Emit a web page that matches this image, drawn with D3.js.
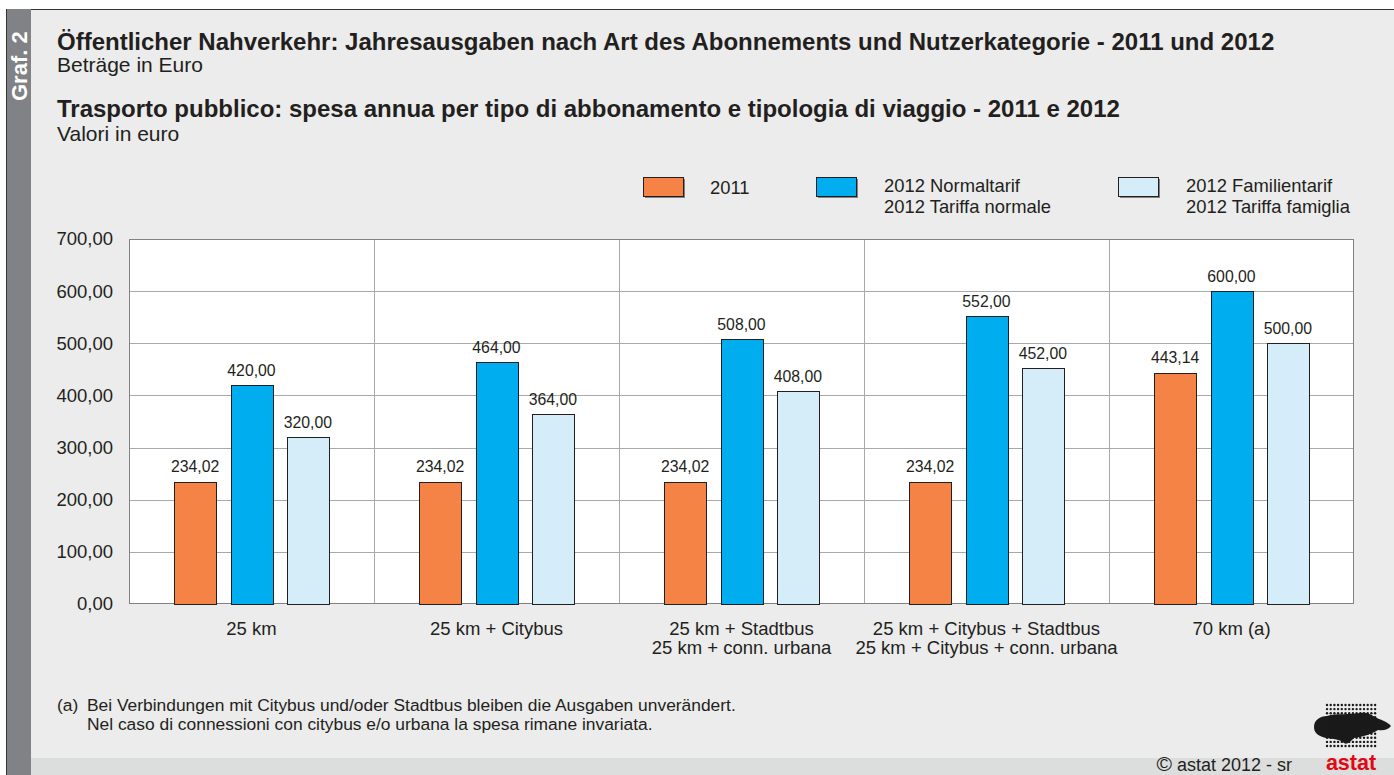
<!DOCTYPE html>
<html><head><meta charset="utf-8">
<script src="https://cdn.jsdelivr.net/npm/d3@7"></script>
<style>
html,body{margin:0;padding:0;background:#fff;}
svg{display:block;font-family:"Liberation Sans",Arial,sans-serif;}
</style></head>
<body>
<svg id="c" width="1394" height="775"></svg>
<script>
const categories = [
  ["25 km"],
  ["25 km + Citybus"],
  ["25 km + Stadtbus", "25 km + conn. urbana"],
  ["25 km + Citybus + Stadtbus", "25 km + Citybus + conn. urbana"],
  ["70 km (a)"]
];
const seriesNames = [["2011"], ["2012 Normaltarif", "2012 Tariffa normale"], ["2012 Familientarif", "2012 Tariffa famiglia"]];
const values2011 = [234.02, 234.02, 234.02, 234.02, 443.14];
const values2012Normal = [420.00, 464.00, 508.00, 552.00, 600.00];
const values2012Family = [320.00, 364.00, 408.00, 452.00, 500.00];
const yTicks = [0, 100, 200, 300, 400, 500, 600, 700];
const colors = ["#f58345", "#00aeef", "#d5edf9"];

const svg = d3.select("#c");
const fmt = v => d3.format(".2f")(v).replace(".", ",");
const ink = "#231f20";

// background and frame
svg.append("rect").attr("x",0).attr("y",0).attr("width",1394).attr("height",775).attr("fill","#fff");
svg.append("rect").attr("x",6).attr("y",9).attr("width",1388).attr("height",766).attr("fill","#ebeceb");
svg.append("rect").attr("x",31).attr("y",758).attr("width",1363).attr("height",17).attr("fill","#dcdddd");
svg.append("line").attr("x1",6).attr("x2",1394).attr("y1",9.5).attr("y2",9.5).attr("stroke","#333").attr("stroke-width",1);
svg.append("rect").attr("x",6).attr("y",9).attr("width",25).attr("height",766).attr("fill","#808285");
svg.append("line").attr("x1",6.5).attr("x2",6.5).attr("y1",9).attr("y2",775).attr("stroke","#333");
svg.append("text").attr("transform","translate(26.5,101) rotate(-90)")
  .attr("font-size",22).attr("font-weight","bold").attr("fill","#fff").text("Graf. 2");

// titles
svg.append("text").attr("x",57).attr("y",50).attr("font-size",24).attr("font-weight","bold").attr("fill",ink)
  .text("Öffentlicher Nahverkehr: Jahresausgaben nach Art des Abonnements und Nutzerkategorie - 2011 und 2012");
svg.append("text").attr("x",57).attr("y",72).attr("font-size",21).attr("fill",ink).text("Beträge in Euro");
svg.append("text").attr("x",57).attr("y",117).attr("font-size",24).attr("font-weight","bold").attr("fill",ink)
  .text("Trasporto pubblico: spesa annua per tipo di abbonamento e tipologia di viaggio - 2011 e 2012");
svg.append("text").attr("x",57).attr("y",141).attr("font-size",21).attr("fill",ink).text("Valori in euro");

// scales
const pLeft = 129, pRight = 1354, pTop = 239, pBottom = 604;
const x = d3.scaleBand().domain(d3.range(categories.length)).range([pLeft, pRight]).padding(0);
const xi = d3.scaleBand().domain([0,1,2]).range([0, x.bandwidth()]).paddingInner(0.257).paddingOuter(0.8);
const y = d3.scaleLinear().domain([0, 700]).range([pBottom, pTop]);

const g = svg.append("g");
g.append("rect").attr("x",pLeft).attr("y",pTop).attr("width",pRight-pLeft).attr("height",pBottom-pTop).attr("fill","#fff");
g.selectAll(".grid").data(yTicks.slice(1)).join("line")
  .attr("x1",pLeft).attr("x2",pRight).attr("y1",d=>Math.round(y(d))+0.5).attr("y2",d=>Math.round(y(d))+0.5)
  .attr("stroke","#a7a9ac").attr("stroke-width",1);
g.selectAll(".div").data(d3.range(1, categories.length)).join("line")
  .attr("x1",d=>Math.round(x(d))+0.5).attr("x2",d=>Math.round(x(d))+0.5).attr("y1",pTop).attr("y2",pBottom)
  .attr("stroke","#a7a9ac").attr("stroke-width",1);
g.append("rect").attr("x",pLeft+0.5).attr("y",pTop+0.5).attr("width",pRight-pLeft-1).attr("height",pBottom-pTop-1)
  .attr("fill","none").attr("stroke","#808285").attr("stroke-width",1);

// y axis
const yAxis = d3.axisLeft(y).tickValues(yTicks).tickSize(0).tickPadding(16).tickFormat(fmt);
const ya = svg.append("g").attr("transform",`translate(${pLeft},0)`).call(yAxis);
ya.select(".domain").remove();
ya.selectAll("text").attr("font-size",18.5).attr("fill",ink).attr("font-family","Liberation Sans, Arial, sans-serif");

// bars
const series = [values2011, values2012Normal, values2012Family];
series.forEach((vals, si) => {
  const bars = svg.append("g");
  bars.selectAll("rect").data(vals).join("rect")
    .attr("x",(d,i)=>Math.round(x(i)+xi(si))+0.5)
    .attr("y",d=>Math.round(y(d))+0.5)
    .attr("width",Math.round(xi.bandwidth()))
    .attr("height",d=>Math.round(y(0))-Math.round(y(d)))
    .attr("fill",colors[si]).attr("stroke",ink).attr("stroke-width",1);
  bars.selectAll("text").data(vals).join("text")
    .attr("x",(d,i)=>x(i)+xi(si)+xi.bandwidth()/2)
    .attr("y",d=>y(d)-9.5)
    .attr("text-anchor","middle").attr("font-size",15.8).attr("fill",ink)
    .text(fmt);
});

// x labels
const xl = svg.append("g");
categories.forEach((lines, i) => {
  lines.forEach((ln, k) => xl.append("text").attr("x", x(i)+x.bandwidth()/2).attr("y",634.5 + k*19)
    .attr("text-anchor","middle").attr("font-size",18.5).attr("fill",ink).text(ln));
});

// legend
const legX = [643, 816, 1118];
const lg = svg.append("g");
seriesNames.forEach((names, si) => {
  lg.append("rect").attr("x",legX[si]+2).attr("y",179).attr("width",40).attr("height",19).attr("fill","#555").attr("opacity",0.7);
  lg.append("rect").attr("x",legX[si]+0.5).attr("y",177.5).attr("width",40).attr("height",19)
    .attr("fill",colors[si]).attr("stroke",ink).attr("stroke-width",1);
  if (names.length === 1) {
    lg.append("text").attr("x",legX[si]+67).attr("y",194).attr("font-size",18.4).attr("fill",ink).text(names[0]);
  } else {
    names.forEach((n,k)=> lg.append("text").attr("x",legX[si]+68).attr("y",k===0?191.5:213)
      .attr("font-size",18.4).attr("fill",ink).text(n));
  }
});

// footnote
svg.append("text").attr("x",57).attr("y",711).attr("font-size",17.4).attr("fill",ink).text("(a)");
svg.append("text").attr("x",87).attr("y",711).attr("font-size",17.4).attr("fill",ink)
  .text("Bei Verbindungen mit Citybus und/oder Stadtbus bleiben die Ausgaben unverändert.");
svg.append("text").attr("x",87).attr("y",730).attr("font-size",17.4).attr("fill",ink)
  .text("Nel caso di connessioni con citybus e/o urbana la spesa rimane invariata.");

// copyright
const cp = svg.append("text").attr("x",1292).attr("y",771).attr("text-anchor","end").attr("font-size",18).attr("fill",ink);
cp.append("tspan").attr("font-size",21).text("©");
cp.append("tspan").text("  astat 2012 - sr");
svg.append("text").attr("x",1351).attr("y",769.5).attr("text-anchor","middle").attr("font-size",21.5).attr("font-weight","bold")
  .attr("fill","#e30613").text("astat");

// logo: dotted map
const logo = svg.append("g");
logo.append("path").attr("d","M1314,727 C1314,720 1320,716 1327,716 C1336,713 1350,715 1360,713 C1368,712 1371,715 1375,717 C1380,720 1387,721 1391,726 C1388,730 1383,731 1378,730 C1372,734 1362,737 1354,738 C1350,742 1347,745 1344,743 C1340,739 1333,739 1326,738 C1318,736 1314,733 1314,727 Z")
  .attr("fill","#1a1a1a");
const dots = [];
for (let r = 0; r < 11; r++) for (let c = 0; c < 14; c++) dots.push([1327 + c*3.7, 705 + r*4.1]);
logo.selectAll("circle").data(dots).join("circle").attr("cx",d=>d[0]).attr("cy",d=>d[1]).attr("r",1.2).attr("fill","#1a1a1a");
</script>
</body></html>
